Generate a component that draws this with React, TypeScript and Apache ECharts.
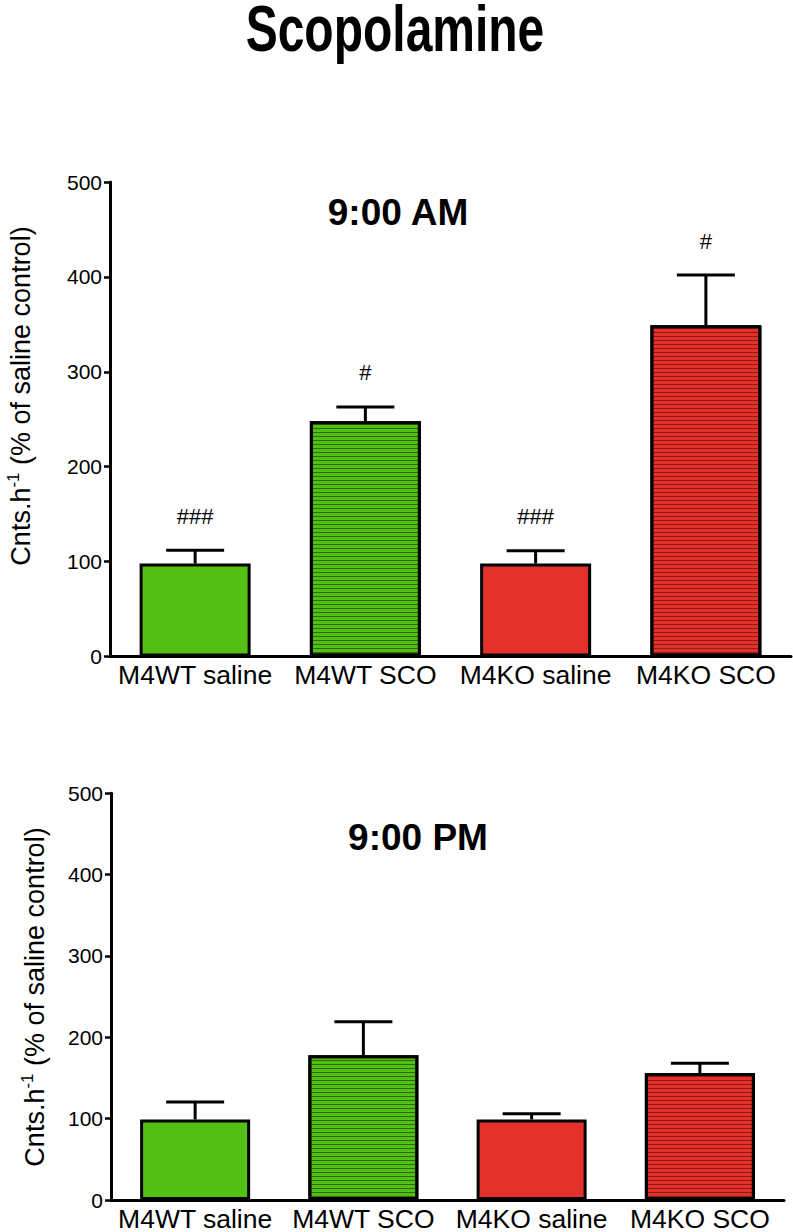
import React, { useEffect, useRef } from "react";
import * as echarts from "echarts";

const categories = ["M4WT saline", "M4WT SCO", "M4KO saline", "M4KO SCO"];
const amMean = [98, 248, 98, 349];
const amSem = [14, 15, 13.5, 53];
const amSig = ["###", "#", "###", "#"];
const pmMean = [99, 178, 99, 156];
const pmSem = [21.5, 41, 7, 12];
const pmSig = ["", "", "", ""];
const yMin = 0;
const yMax = 500;
const yStep = 100;

const FONT = "'Liberation Sans', Arial, Helvetica, sans-serif";
const GREEN = "#54C014";
const RED = "#E3302A";
const GREEN_STRIPE = "#2C6A0C";
const RED_STRIPE = "#8A1C16";

function barItems(means: number[]) {
  return means.map((v, i) => {
    const isKO = i >= 2;
    const isSCO = i % 2 === 1;
    const item: any = {
      value: v,
      itemStyle: {
        color: isKO ? RED : GREEN,
        borderColor: "#000",
        borderWidth: 3,
      },
    };
    if (isSCO) {
      item.itemStyle.decal = {
        symbol: "rect",
        symbolSize: 1,
        dashArrayX: [1, 0],
        dashArrayY: [1, 3],
        rotation: 0,
        color: isKO ? RED_STRIPE : GREEN_STRIPE,
      };
    }
    return item;
  });
}

function errSeries(means: number[], sem: number[], sig: string[], idx: number) {
  return {
    type: "custom",
    xAxisIndex: idx,
    yAxisIndex: idx,
    z: 5,
    data: means.map((m, i) => [i, m, m + sem[i]]),
    encode: { x: 0, y: 1 },
    renderItem: (params: any, api: any) => {
      const i = api.value(0);
      const p0 = api.coord([i, api.value(1)]);
      const p1 = api.coord([i, api.value(2)]);
      const half = 29;
      const children: any[] = [
        {
          type: "line",
          shape: { x1: p0[0], y1: p0[1], x2: p1[0], y2: p1[1] },
          style: { stroke: "#000", lineWidth: 3 },
        },
        {
          type: "line",
          shape: { x1: p1[0] - half, y1: p1[1], x2: p1[0] + half, y2: p1[1] },
          style: { stroke: "#000", lineWidth: 3 },
        },
      ];
      const s = sig[params.dataIndex];
      if (s) {
        children.push({
          type: "text",
          x: p1[0],
          y: p1[1] - 34,
          style: {
            text: s,
            align: "center",
            verticalAlign: "middle",
            fontSize: 22,
            fontFamily: FONT,
            fill: "#000",
          },
        });
      }
      return { type: "group", children };
    },
  };
}

function yAxisCfg(idx: number) {
  return {
    type: "value",
    gridIndex: idx,
    min: yMin,
    max: yMax,
    interval: yStep,
    axisLine: { show: true, lineStyle: { color: "#000", width: 3 } },
    axisTick: { show: true, length: 6, lineStyle: { color: "#000", width: 2.5 } },
    splitLine: { show: false },
    axisLabel: { color: "#000", fontSize: 21, fontFamily: FONT, margin: 8 },
  };
}

function xAxisCfg(idx: number) {
  return {
    type: "category",
    gridIndex: idx,
    data: categories,
    axisLine: { show: true, lineStyle: { color: "#000", width: 3 } },
    axisTick: { show: false },
    axisLabel: { color: "#000", fontSize: 26.5, fontFamily: FONT, margin: 5, interval: 0 },
  };
}

function yLabel(x: number, y: number, size: number) {
  return {
    type: "text",
    x,
    y,
    rotation: Math.PI / 2,
    style: {
      text: "{a|Cnts.h}{s|-1}{a| (% of saline control)}",
      align: "center",
      verticalAlign: "middle",
      fill: "#000",
      rich: {
        a: { fontSize: size, fontFamily: FONT, lineHeight: size + 6, fill: "#000" },
        s: {
          fontSize: Math.round(size * 0.62),
          fontFamily: FONT,
          lineHeight: Math.round(size * 0.62),
          verticalAlign: "top",
          fill: "#000",
        },
      },
    },
  };
}

export default function App() {
  const ref = useRef<HTMLDivElement>(null);
  useEffect(() => {
    if (!ref.current) return;
    const chart = echarts.init(ref.current, undefined, { renderer: "svg" });
    chart.setOption({
      animation: false,
      backgroundColor: "#fff",
      grid: [
        { left: 110, top: 182, width: 681, height: 474.5 },
        { left: 111, top: 793.3, width: 673, height: 408.4 },
      ],
      xAxis: [xAxisCfg(0), xAxisCfg(1)],
      yAxis: [yAxisCfg(0), yAxisCfg(1)],
      series: [
        {
          type: "bar",
          xAxisIndex: 0,
          yAxisIndex: 0,
          barWidth: 111,
          data: barItems(amMean),
        },
        errSeries(amMean, amSem, amSig, 0),
        {
          type: "bar",
          xAxisIndex: 1,
          yAxisIndex: 1,
          barWidth: 110,
          data: barItems(pmMean),
        },
        errSeries(pmMean, pmSem, pmSig, 1),
      ],
      graphic: [
        {
          type: "text",
          x: 395,
          y: 29,
          scaleX: 0.75,
          style: {
            text: "Scopolamine",
            align: "center",
            verticalAlign: "middle",
            fontSize: 64,
            fontWeight: "bold",
            fontFamily: FONT,
            fill: "#000",
          },
        },
        {
          type: "text",
          x: 398,
          y: 212,
          style: {
            text: "9:00 AM",
            align: "center",
            verticalAlign: "middle",
            fontSize: 37,
            fontWeight: "bold",
            fontFamily: FONT,
            fill: "#000",
          },
        },
        {
          type: "text",
          x: 418,
          y: 837,
          style: {
            text: "9:00 PM",
            align: "center",
            verticalAlign: "middle",
            fontSize: 37,
            fontWeight: "bold",
            fontFamily: FONT,
            fill: "#000",
          },
        },
        yLabel(21, 396, 27),
        yLabel(35, 997, 27),
      ],
    });
    return () => chart.dispose();
  }, []);
  return (
    <div
      ref={ref}
      style={{ position: "absolute", left: 0, top: 0, width: 793, height: 1232, background: "#fff" }}
    />
  );
}
